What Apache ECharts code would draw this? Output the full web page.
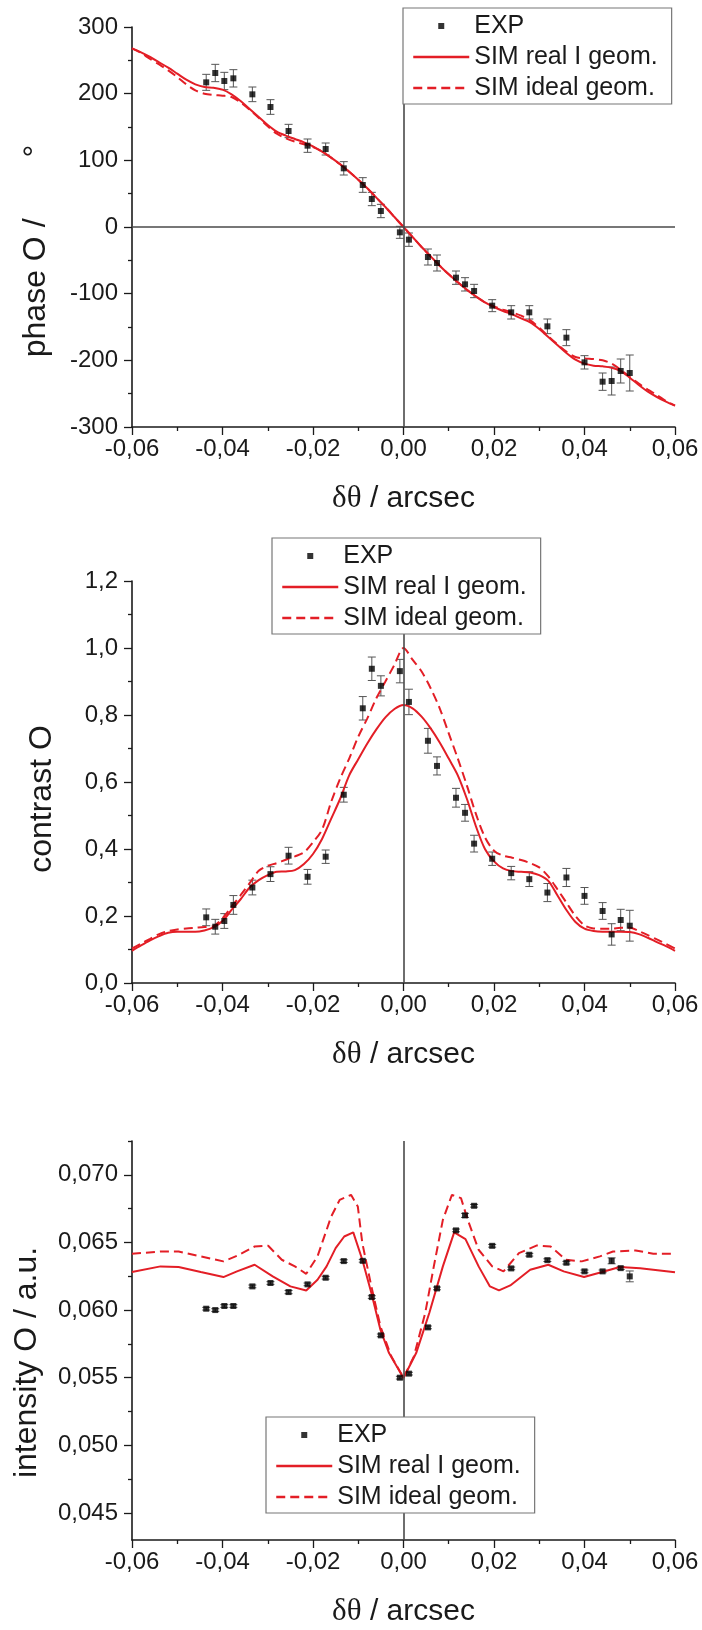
<!DOCTYPE html>
<html><head><meta charset="utf-8">
<script src="https://cdn.jsdelivr.net/npm/echarts@6/dist/echarts.min.js"></script>
<style>html,body{margin:0;padding:0;background:#fff}#c{width:702px;height:1630px}</style>
</head><body><div id="c"></div>
<script>
// ---------- data ----------
const expX = [-0.0436,-0.0416,-0.0396,-0.0376,-0.0334,-0.0294,-0.0254,-0.0212,-0.0172,-0.0132,-0.0090,-0.0070,-0.0050,-0.0008,0.0012,0.0054,0.0074,0.0116,0.0136,0.0156,0.0196,0.0238,0.0278,0.0318,0.0360,0.0400,0.0440,0.0460,0.0480,0.0500];

const phaseExp = [217,231,219,223,199,180,144,122,117,88,63,42,24,-8,-19,-45,-54,-76,-86,-96,-118,-128,-128,-149,-166,-203,-232,-231,-216,-219];
const phaseErr = [12,13,13,13,11,11,10,10,9,10,11,10,10,9,10,12,12,10,10,10,9,10,10,11,12,10,13,21,18,27];

const contrastExp = [0.196,0.168,0.185,0.233,0.285,0.325,0.380,0.317,0.377,0.562,0.820,0.938,0.887,0.931,0.839,0.723,0.648,0.553,0.508,0.416,0.371,0.328,0.310,0.270,0.315,0.260,0.215,0.145,0.188,0.171];
const contrastErr = [0.025,0.022,0.022,0.028,0.022,0.022,0.025,0.022,0.020,0.022,0.035,0.035,0.030,0.035,0.038,0.037,0.027,0.028,0.025,0.025,0.020,0.020,0.022,0.027,0.027,0.025,0.025,0.032,0.032,0.046];

const intensityExp = [0.0601,0.0600,0.0603,0.0603,0.06175,0.0620,0.06133,0.0619,0.06239,0.06362,0.06364,0.06096,0.05813,0.0550,0.0553,0.05872,0.0616,0.06589,0.0670,0.06771,0.06475,0.06308,0.06409,0.06369,0.0635,0.06286,0.06286,0.06364,0.0631,0.06249];
const intensityErr = [0.0001,0.0001,0.0001,0.0001,0.0001,0.0001,0.00012,0.0001,0.0001,0.0001,0.0001,0.0001,0.0001,0.0001,0.0001,0.0001,0.0001,0.0001,0.00015,0.0001,0.0001,0.0001,0.0001,0.0001,0.0001,0.0001,0.0001,0.00022,0.0001,0.0004];

const simX = [-0.060,-0.058,-0.056,-0.054,-0.052,-0.050,-0.048,-0.046,-0.044,-0.042,-0.040,-0.038,-0.036,-0.034,-0.032,-0.030,-0.028,-0.026,-0.024,-0.022,-0.020,-0.018,-0.016,-0.014,-0.012,-0.010,-0.008,-0.006,-0.004,-0.002,0,0.002,0.004,0.006,0.008,0.010,0.012,0.014,0.016,0.018,0.020,0.022,0.024,0.026,0.028,0.030,0.032,0.034,0.036,0.038,0.040,0.042,0.044,0.046,0.048,0.050,0.052,0.054,0.056,0.058,0.060];

const phaseReal = [268,262,255,247,239,230,221,214,210,209,206,199,189,177,165,153,143,137,132,127,121,113,104,94,83,71,58,44,30,15,0,-15,-30,-44,-58,-71,-83,-94,-104,-113,-120,-126,-131,-137,-143,-153,-165,-177,-189,-199,-205,-208,-209,-211,-216,-226,-237,-247,-255,-262,-268];
const phaseIdeal = [268,261,252,244,235,225,214,205,200,198,197,195,187,176,164,151,140,133,128,124,120,113,104,94,83,71,58,44,30,15,0,-15,-30,-44,-58,-71,-83,-94,-104,-113,-119,-124,-128,-133,-140,-151,-164,-176,-187,-195,-197,-198,-200,-205,-214,-225,-235,-244,-252,-261,-268];

const contrastReal = [0.096,0.112,0.127,0.140,0.150,0.153,0.153,0.153,0.157,0.166,0.185,0.218,0.250,0.285,0.307,0.322,0.332,0.333,0.337,0.355,0.385,0.430,0.490,0.550,0.620,0.668,0.715,0.757,0.793,0.818,0.830,0.820,0.795,0.760,0.718,0.670,0.620,0.550,0.468,0.400,0.363,0.342,0.334,0.332,0.330,0.322,0.305,0.262,0.218,0.182,0.162,0.155,0.153,0.153,0.153,0.152,0.146,0.135,0.122,0.110,0.096];
const contrastIdeal = [0.103,0.118,0.132,0.146,0.155,0.160,0.163,0.165,0.167,0.170,0.193,0.228,0.262,0.298,0.335,0.350,0.358,0.368,0.378,0.390,0.420,0.458,0.540,0.610,0.670,0.735,0.790,0.850,0.900,0.950,1.000,0.965,0.930,0.880,0.820,0.745,0.670,0.590,0.505,0.435,0.395,0.380,0.374,0.367,0.358,0.345,0.318,0.280,0.240,0.200,0.172,0.163,0.162,0.162,0.165,0.165,0.155,0.143,0.130,0.117,0.103];

const intRealX = [-0.060,-0.0537,-0.0497,-0.0448,-0.0398,-0.0368,-0.0329,-0.0289,-0.0250,-0.0215,-0.0190,-0.0170,-0.0150,-0.0131,-0.0111,-0.0091,-0.0071,-0.0051,-0.0032,0,0.0028,0.0057,0.0087,0.0112,0.0137,0.0166,0.0191,0.0211,0.0236,0.0280,0.0320,0.0354,0.0399,0.0439,0.0478,0.0523,0.060];
const intReal = [0.06281,0.06323,0.06318,0.06281,0.06244,0.06286,0.06335,0.06249,0.06175,0.06145,0.06224,0.06323,0.06458,0.06544,0.06574,0.06372,0.06126,0.05855,0.05682,0.05498,0.05682,0.05978,0.06323,0.06574,0.06525,0.06323,0.06175,0.06145,0.06182,0.06298,0.06335,0.06286,0.06244,0.06281,0.06318,0.0631,0.0628];
const intIdealX = [-0.060,-0.0537,-0.0497,-0.0448,-0.0398,-0.0368,-0.0329,-0.0299,-0.0269,-0.0240,-0.0215,-0.0190,-0.0160,-0.0141,-0.0116,-0.0101,-0.0091,-0.0071,-0.0051,-0.0027,0,0.0023,0.0048,0.0067,0.0087,0.0107,0.0127,0.0142,0.0166,0.0196,0.0221,0.0255,0.0295,0.0325,0.0359,0.0394,0.0434,0.0463,0.0513,0.0552,0.060];
const intIdeal = [0.06416,0.06433,0.06433,0.06397,0.0636,0.06401,0.0647,0.06475,0.06372,0.06323,0.06268,0.06397,0.0669,0.06815,0.06852,0.06766,0.06495,0.06175,0.05879,0.05658,0.0550,0.05658,0.05978,0.06323,0.06667,0.06852,0.06828,0.06667,0.06446,0.06323,0.06286,0.06421,0.06478,0.0647,0.06372,0.0636,0.06397,0.06433,0.06441,0.06416,0.06416];

const intensityTicks = [0.045,0.050,0.055,0.060,0.065,0.070];
const intensityMinorTicks = [0.0475,0.0525,0.0575,0.0625,0.0675,0.0725];

const NAMES = ['EXP','SIM real I geom.','SIM ideal geom.'];

// ---------- styling ----------
const FONT = '"Liberation Sans", Arial, sans-serif';
const RED = '#e31e26';
const INK = '#1a1a1a';
const GRIDS = [
  {left:132, top:27, width:543, height:400},
  {left:132, top:581, width:543, height:402},
  {left:132, top:1141, width:543, height:399}
];

function fmt(d){
  return function(v){
    if (Math.abs(v) < 1e-12) v = 0;
    return v.toFixed(d).replace('.', ',');
  };
}

function xAxis(i){
  return {
    type:'value', gridIndex:i, min:-0.06, max:0.06, interval:0.02,
    axisLine:{onZero:false, lineStyle:{color:INK, width:1.6}},
    axisTick:{length:8, lineStyle:{color:INK, width:1.3}},
    minorTick:{show:true, splitNumber:2, length:4, lineStyle:{color:INK, width:1.3}},
    splitLine:{show:false}, minorSplitLine:{show:false},
    axisLabel:{fontSize:24, fontFamily:FONT, color:INK, margin:10, formatter:fmt(2), showMinLabel:true, showMaxLabel:true},
    name:'{d|δθ} / arcsec', nameLocation:'middle', nameGap:56,
    nameTextStyle:{fontSize:30, fontFamily:FONT, color:INK,
      rich:{d:{fontSize:31, fontFamily:'"Liberation Serif", "DejaVu Serif", serif', color:INK}}}
  };
}

function yBase(i, name, gap, shiftDown, rich){
  const nts = {fontSize:32, fontFamily:FONT, color:INK, padding:[0, 2*shiftDown, 0, 0]};
  if (rich) nts.rich = rich;
  return {
    type:'value', gridIndex:i,
    axisLine:{show:true, onZero:false, lineStyle:{color:INK, width:1.6}},
    axisTick:{show:true, length:8, lineStyle:{color:INK, width:1.3}},
    splitLine:{show:false}, minorSplitLine:{show:false},
    name:name, nameLocation:'middle', nameRotate:90, nameGap:gap,
    nameTextStyle:nts
  };
}

const yAxes = [];
let y0 = yBase(0, '{t|phase O / }{g|°}', 80, 24, {
  t:{fontSize:32, fontFamily:FONT, color:INK},
  g:{fontSize:32, fontFamily:FONT, color:INK, padding:[0,0,0,52]}
});
Object.assign(y0, {min:-300, max:300, interval:100,
  minorTick:{show:true, splitNumber:2, length:4, lineStyle:{color:INK, width:1.3}},
  axisLabel:{fontSize:24, fontFamily:FONT, color:INK, margin:14}});
yAxes.push(y0);
let y1 = yBase(1, 'contrast O', 74, 17);
Object.assign(y1, {min:0, max:1.2, interval:0.2,
  minorTick:{show:true, splitNumber:2, length:4, lineStyle:{color:INK, width:1.3}},
  axisLabel:{fontSize:24, fontFamily:FONT, color:INK, margin:14, formatter:fmt(1)}});
yAxes.push(y1);
let y2 = yBase(2, 'intensity O / a.u.', 89, 22);
Object.assign(y2, {min:0.043, max:0.0725,
  axisTick:{show:true, length:8, customValues:intensityTicks, lineStyle:{color:INK, width:1.3}},
  axisLabel:{fontSize:24, fontFamily:FONT, color:INK, margin:14, formatter:fmt(3), customValues:intensityTicks}});
yAxes.push(y2);
yAxes.push({type:'value', gridIndex:2, position:'left', offset:0, min:0.043, max:0.0725,
  axisLine:{show:false, onZero:false}, axisLabel:{show:false}, splitLine:{show:false},
  axisTick:{show:true, length:4, customValues:intensityMinorTicks, lineStyle:{color:INK, width:1.3}}});

function errRender(params, api){
  const x = api.value(0), y = api.value(1), e = api.value(2);
  const t = api.coord([x, y + e]), b = api.coord([x, y - e]);
  const cw = 4, st = {stroke:'#555', lineWidth:1};
  return {type:'group', children:[
    {type:'line', shape:{x1:t[0], y1:t[1], x2:b[0], y2:b[1]}, style:st},
    {type:'line', shape:{x1:t[0]-cw, y1:t[1], x2:t[0]+cw, y2:t[1]}, style:st},
    {type:'line', shape:{x1:b[0]-cw, y1:b[1], x2:b[0]+cw, y2:b[1]}, style:st}
  ]};
}

function panelSeries(p, yIdx, rx, ry, ix, iy, ey, ee, smooth, zeroH){
  const mlData = [{xAxis:0}];
  if (zeroH) mlData.push({yAxis:0});
  return [
    {type:'custom', name:'zero'+p, xAxisIndex:p, yAxisIndex:yIdx, renderItem:errRender,
     data:expX.map((x,k)=>[x, ey[k], ee[k]]), z:3,
     markLine:{silent:true, symbol:['none','none'], label:{show:false}, animation:false,
       lineStyle:{color:'#4a4a4a', width:1.6, type:'solid'}, data:mlData}},
    {type:'line', name:NAMES[1], xAxisIndex:p, yAxisIndex:yIdx, symbol:'none', smooth:smooth,
     data:rx.map((x,k)=>[x, ry[k]]), lineStyle:{color:RED, width:2}, itemStyle:{color:RED}, z:4},
    {type:'line', name:NAMES[2], xAxisIndex:p, yAxisIndex:yIdx, symbol:'none', smooth:smooth,
     data:ix.map((x,k)=>[x, iy[k]]), lineStyle:{color:RED, width:2, type:[9,5]}, itemStyle:{color:RED}, z:4},
    {type:'scatter', name:NAMES[0], xAxisIndex:p, yAxisIndex:yIdx, symbol:'rect', symbolSize:6,
     data:expX.map((x,k)=>[x, ey[k]]), itemStyle:{color:'#000'}, z:5}
  ];
}

const EXP_ICON = 'path://M0,0M56,14M25,4h6v6h-6z';
function legend(left, top){
  return {
    orient:'vertical', left:left, top:top, itemWidth:56, itemHeight:14, itemGap:3,
    padding:[4,14,2,9], backgroundColor:'#fff', borderColor:'#777', borderWidth:1.2,
    selectedMode:false, z:10,
    textStyle:{fontSize:25, fontFamily:FONT, color:INK, lineHeight:28},
    data:[
      {name:NAMES[0], icon:EXP_ICON},
      {name:NAMES[1], itemStyle:{opacity:0}, lineStyle:{width:2.5}},
      {name:NAMES[2], itemStyle:{opacity:0}, lineStyle:{width:2.5}}
    ]
  };
}

const chart = echarts.init(document.getElementById('c'), null, {renderer:'canvas'});
chart.setOption({
  animation:false,
  backgroundColor:'#fff',
  grid:GRIDS,
  xAxis:[xAxis(0), xAxis(1), xAxis(2)],
  yAxis:yAxes,
  legend:[legend(403, 8), legend(272, 538), legend(266, 1417)],
  series:[].concat(
    panelSeries(0, 0, simX, phaseReal, simX, phaseIdeal, phaseExp, phaseErr, 0.3, true),
    panelSeries(1, 1, simX, contrastReal, simX, contrastIdeal, contrastExp, contrastErr, 0.3, false),
    panelSeries(2, 2, intRealX, intReal, intIdealX, intIdeal, intensityExp, intensityErr, false, false)
  )
});
</script></body></html>
